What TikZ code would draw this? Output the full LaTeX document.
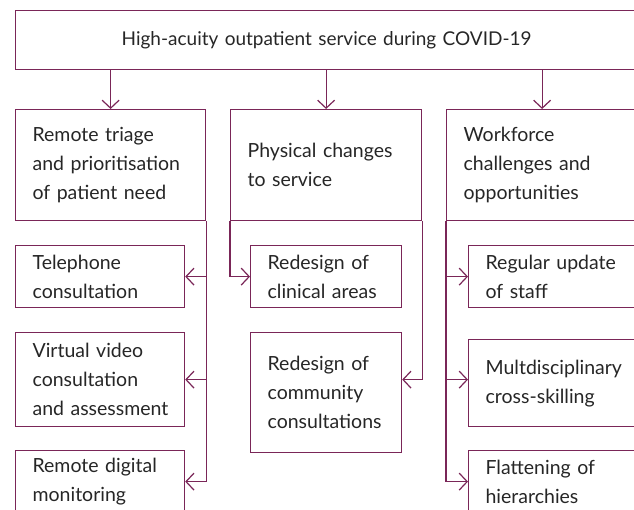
\documentclass[tikz,border=0pt]{standalone}
\usepackage{fontspec}
\setmainfont{Lato}
\usetikzlibrary{arrows.meta, positioning}
\definecolor{plum}{RGB}{122,38,88}

\begin{document}
\begin{tikzpicture}[x=1pt, y=-1pt,
     box/.style = {draw=plum, line width=1.2pt, anchor=north west, inner xsep=17pt,
                   inner ysep=0pt, align=left, font=\fontsize{19.5}{29}\selectfont, text=black!85},
     head/.style = {box, align=center, font=\fontsize{19}{22}\selectfont},
     arr/.style = {draw=plum, line width=1.2pt, -{Straight Barb[length=8pt, width=17pt]}}
                        ]
\useasboundingbox (0,0) rectangle (634,509);
\clip (0,0) rectangle (634,509);
% top level
\node[head, text width=588pt, minimum height=59pt] (covid) at (15,10)
     {High-acuity outpatient service during COVID-19};
% themes
\node[box, text width=156pt, minimum height=111pt] (triage) at (15,109)
     {Remote triage\\\mbox{and prioritisation}\\of patient need};
\node[box, text width=157pt, minimum height=111pt] (physical) at (230,109)
     {\mbox{Physical changes}\\to service};
\node[box, text width=157pt, minimum height=111pt] (workforce) at (446,109)
     {Workforce\\challenges and\\opportunities};
% remote triage
\node[box, text width=135pt, minimum height=62pt] (phone) at (15,245)
     {Telephone\\consultation};
\node[box, text width=135pt, minimum height=94pt] (video) at (15,332)
     {Virtual video\\consultation\\\mbox{and assessment}};
\node[box, text width=135pt, minimum height=62pt] (monitor) at (15,450)
     {\mbox{Remote digital}\\monitoring};
% physical changes
\node[box, text width=117pt, minimum height=62pt] (clinical) at (250,245)
     {Redesign of\\\mbox{clinical areas}};
\node[box, text width=117pt, minimum height=120pt] (community) at (250,332)
     {Redesign of\\community\\\mbox{consultations}};
% workforce
\node[box, text width=135pt, minimum height=62pt] (update) at (468,245)
     {\mbox{Regular update}\\of staff};
\node[box, text width=135pt, minimum height=87pt] (skill) at (468,339)
     {\mbox{Multdisciplinary}\\cross-skilling};
\node[box, text width=135pt, minimum height=62pt] (flat) at (468,450)
     {Flattening of\\hierarchies};

\draw[arr] (covid.south -| triage.north)    -- (triage.north);
\draw[arr] (covid.south -| physical.north)  -- (physical.north);
\draw[arr] (covid.south -| workforce.north) -- (workforce.north);

\draw[arr] (triage.south east) |- (phone.east);
\draw[arr] (triage.south east) |- (video.east);
\draw[arr] (triage.south east) |- (monitor.east);

\draw[arr] (physical.south west) |- (clinical.west);
\draw[arr] (physical.south east) |- (community.east |- video.east);

\draw[arr] (workforce.south west) |- (update.west);
\draw[arr] (workforce.south west) |- (skill.west |- video.east);
\draw[arr] (workforce.south west) |- (flat.west);
\end{tikzpicture}
\end{document}
